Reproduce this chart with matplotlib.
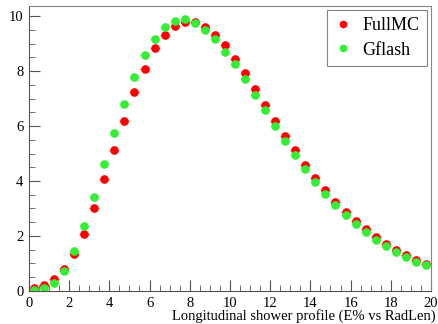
import matplotlib.pyplot as plt
from matplotlib.lines import Line2D
from matplotlib.ticker import MultipleLocator

plt.rcParams['font.family'] = ['Liberation Serif', 'DejaVu Serif']

# bin centres (RadLen), 0.5 wide bins
x = [0.25 + 0.5 * i for i in range(40)]

fullmc = [0.12, 0.20, 0.43, 0.79, 1.34, 2.08, 3.01, 4.06, 5.13, 6.18,
          7.24, 8.07, 8.83, 9.32, 9.64, 9.77, 9.79, 9.61, 9.32, 8.93,
          8.45, 7.92, 7.35, 6.76, 6.20, 5.65, 5.13, 4.59, 4.10, 3.67,
          3.24, 2.88, 2.54, 2.24, 1.96, 1.70, 1.48, 1.30, 1.13, 0.99]
gflash = [0.03, 0.10, 0.30, 0.74, 1.44, 2.36, 3.42, 4.60, 5.76, 6.80,
          7.78, 8.57, 9.18, 9.59, 9.81, 9.88, 9.76, 9.51, 9.16, 8.71,
          8.24, 7.70, 7.14, 6.57, 5.99, 5.44, 4.93, 4.42, 3.96, 3.52,
          3.11, 2.76, 2.44, 2.14, 1.87, 1.62, 1.41, 1.23, 1.07, 0.93]
names = ['FullMC', 'Gflash']
colors = ['#ff0000', '#33ee33']
ecolors = ['#ff7777', '#aaeeaa']

fig = plt.figure(figsize=(4.38, 3.24), dpi=100)
ax = fig.add_axes([0.066, 0.102, 0.918, 0.879])

for ys, c, ec in zip([fullmc, gflash], colors, ecolors):
    ax.errorbar(x, ys, xerr=0.25, fmt='o', color=c, ms=5.2,
                elinewidth=0.8, ecolor=ec, capsize=0)

ax.set_xlim(0, 20)
ax.set_ylim(0, 10.36)
ax.xaxis.set_major_locator(MultipleLocator(2))
ax.xaxis.set_minor_locator(MultipleLocator(0.5))
ax.yaxis.set_major_locator(MultipleLocator(2))
ax.yaxis.set_minor_locator(MultipleLocator(0.5))
ax.tick_params(which='both', direction='in', top=False, right=False,
               labelsize=10.5, color='#555555', pad=4)
ax.tick_params(which='major', length=8)
ax.tick_params(which='minor', length=4)
for s in ax.spines.values():
    s.set_color('#888888')
ax.spines['left'].set_color('#555555')
ax.spines['bottom'].set_color('#555555')

ax.set_xlabel('Longitudinal shower profile (E% vs RadLen)', fontsize=10.5,
              labelpad=0)
ax.xaxis.set_label_coords(1.012, -0.062)
ax.xaxis.label.set_horizontalalignment('right')

handles = [Line2D([], [], ls='none', marker='o', ms=4.5, color=c) for c in colors]
leg = ax.legend(handles, names, loc='upper right', fontsize=13, frameon=True,
                fancybox=False, edgecolor='#666666', handlelength=1.0,
                handletextpad=0.6, borderpad=0.4, labelspacing=0.4,
                borderaxespad=0, bbox_to_anchor=(0.99, 0.986))
leg.get_frame().set_linewidth(0.8)

fig.savefig('out.png', dpi=100)
